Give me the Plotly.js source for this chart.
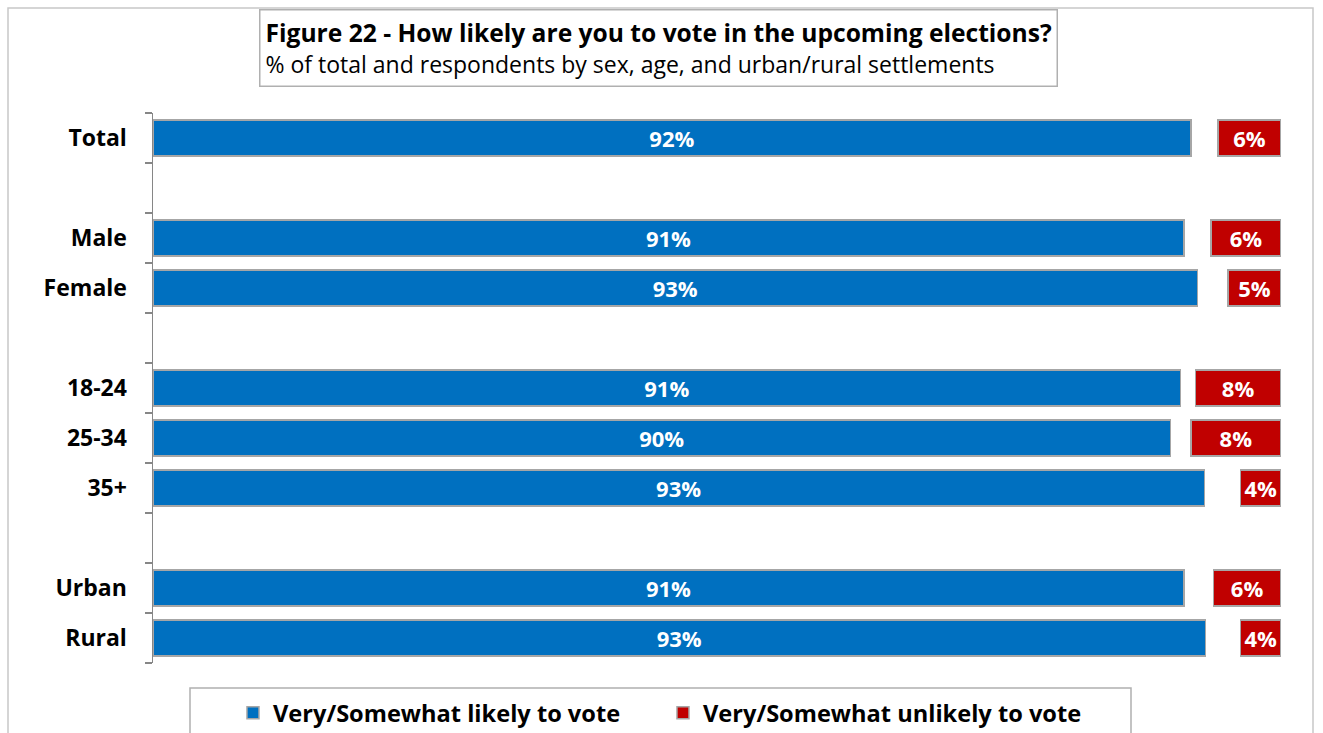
<!DOCTYPE html>
<html>
<head>
<meta charset="utf-8">
<script src="https://cdn.plot.ly/plotly-3.0.1.min.js"></script>
<style>html,body{margin:0;padding:0;background:#fff;}#chart{width:1323px;height:733px;}</style>
</head>
<body>
<div id="chart"></div>
<script>
var categories = ["Total", "", "Male", "Female", "", "18-24", "25-34", "35+", "", "Urban", "Rural"];
var likely =   [92.0, null, 91.4, 92.6, null, 91.1, 90.2, 93.2, null, 91.4, 93.3];
var unlikely = [5.6,  null, 6.2,  4.7,  null, 7.6,  8.0,  3.6,  null, 6.0,  3.6];
var seriesNames = ["Very/Somewhat likely to vote", "Very/Somewhat unlikely to vote"];
var titleText = "Figure 22 - How likely are you to vote in the upcoming elections?";
var subtitleText = "% of total and respondents by sex, age, and urban/rural settlements";

var FONT = "'Open Sans', 'Noto Sans', sans-serif";
var idx = categories.map(function(c, i){ return i; });
var gap = likely.map(function(v, i){ return v == null ? null : 100 - v - unlikely[i]; });
function lbl(arr){ return arr.map(function(v){ return v == null ? "" : Math.round(v) + "%"; }); }
var outline = {color: "#a6a6a6", width: 1.5};

var traces = [
  {type: "bar", orientation: "h", y: idx, x: likely, name: seriesNames[0],
   marker: {color: "#0070C0", line: outline}, text: lbl(likely), textposition: "inside",
   insidetextanchor: "middle", textangle: 0, constraintext: "none",
   textfont: {family: FONT, size: 22, color: "#ffffff", weight: "bold"}, hoverinfo: "x+y"},
  {type: "bar", orientation: "h", y: idx, x: gap, name: "gap", showlegend: false,
   marker: {color: "rgba(0,0,0,0)", line: {width: 0}}, hoverinfo: "skip"},
  {type: "bar", orientation: "h", y: idx, x: unlikely, name: seriesNames[1],
   marker: {color: "#C00000", line: outline}, text: lbl(unlikely), textposition: "inside",
   insidetextanchor: "middle", textangle: 0, constraintext: "none",
   textfont: {family: FONT, size: 22, color: "#ffffff", weight: "bold"}, hoverinfo: "x+y"},
  {type: "scatter", x: [null], y: [null], yaxis: "y2", showlegend: false, hoverinfo: "skip"}
];

var boundaries = [];
for (var i = 0; i <= categories.length; i++) boundaries.push(i - 0.5);

var layout = {
  width: 1323, height: 733,
  margin: {l: 153, r: 42, t: 113, b: 70, pad: 0},
  paper_bgcolor: "#ffffff", plot_bgcolor: "rgba(0,0,0,0)",
  barmode: "stack", bargap: 0.28,
  font: {family: FONT, color: "#000000"},
  showlegend: true,
  legend: {orientation: "h", xref: "paper", x: 0.0709, xanchor: "left",
           yref: "container", y: 1 - 691 / 733, yanchor: "top",
           font: {family: FONT, size: 23.6, color: "#000000", weight: "bold"},
           bgcolor: "rgba(0,0,0,0)", borderwidth: 0, entrywidth: 385, entrywidthmode: "pixels",
           traceorder: "normal"},
  xaxis: {range: [0, 100], visible: false, fixedrange: true},
  yaxis: {range: [categories.length - 0.5, -0.5], tickvals: idx, ticktext: categories,
          showline: true, linecolor: "#868686", linewidth: 1.5, ticks: "", showgrid: false,
          zeroline: false, tickfont: {family: FONT, size: 23, color: "#000000", weight: "bold"},
          ticklabelstandoff: 20},
  yaxis2: {overlaying: "y", side: "left", range: [categories.length - 0.5, -0.5],
           tickvals: boundaries, showticklabels: false, ticks: "outside", ticklen: 7,
           tickwidth: 1.5, tickcolor: "#868686", showline: false, showgrid: false, zeroline: false},
  annotations: [{
    xref: "paper", yref: "paper", x: (259 - 153) / 1128, y: (663 - 9) / 550,
    xanchor: "left", yanchor: "top", align: "left", showarrow: false,
    text: "<b>" + titleText + "</b><br><span style='font-size:23px'>" + subtitleText + "</span>",
    font: {family: FONT, size: 24.6, color: "#000000"},
    bordercolor: "#b0b0b0", borderwidth: 1.5, borderpad: 5, bgcolor: "#ffffff"
  }],
  shapes: [
    {type: "rect", xref: "paper", yref: "paper", x0: (8 - 153) / 1128, x1: (1313 - 153) / 1128,
     y0: (663 - 760) / 550, y1: (663 - 8) / 550, line: {color: "#c8c8c8", width: 1.5}, layer: "below"},
    {type: "rect", xref: "paper", yref: "paper", x0: (190 - 153) / 1128, x1: (1131 - 153) / 1128,
     y0: (663 - 760) / 550, y1: (663 - 688) / 550, line: {color: "#b0b0b0", width: 1.5}, layer: "below"}
  ]
};

Plotly.newPlot("chart", traces, layout, {displayModeBar: false, staticPlot: true});
</script>
</body>
</html>
